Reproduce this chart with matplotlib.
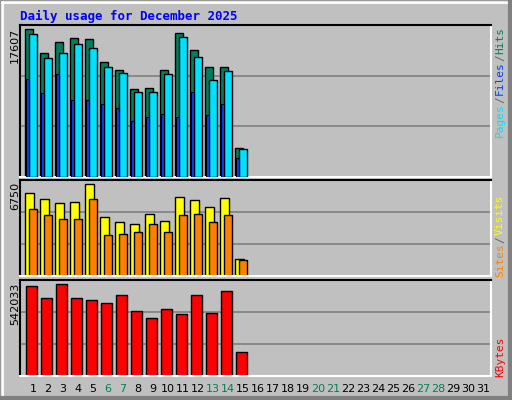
import matplotlib
matplotlib.use("Agg")
import matplotlib.pyplot as plt
from matplotlib.lines import Line2D
import numpy as np

days = list(range(1, 32))
weekend_days = [6, 7, 13, 14, 20, 21, 27, 28]
hits = [17607, 14740, 16054, 16532, 16413, 13665, 12710, 10440, 10560, 12710, 17129, 15099, 13068, 13068, 3392]
files = [17009, 14143, 14740, 15815, 15337, 13068, 12351, 10082, 10082, 12232, 16651, 14262, 11515, 12590, 3273]
pages = [11634, 9962, 12232, 9126, 9126, 8648, 8170, 6617, 7095, 7454, 7095, 10082, 7334, 8648, 2198]
visits = [6090, 5650, 5356, 5430, 6750, 4329, 3962, 3815, 4549, 4035, 5796, 5576, 5063, 5723, 1247]
sites = [4916, 4476, 4182, 4182, 5650, 3008, 3082, 3228, 3815, 3228, 4476, 4573, 3962, 4476, 1174]
kbytes = [530160, 459000, 542033, 459000, 447000, 429300, 476700, 381800, 340200, 393600, 363900, 476700, 369900, 500500, 138300]

W, H = 512, 400
fig = plt.figure(figsize=(W / 100, H / 100), dpi=100)
fig.patch.set_facecolor("#C0C0C0")

def rect(l, t, r, b):
    return [l / W, 1 - b / H, (r - l) / W, (b - t) / H]

def line(x0, y0, x1, y1, c, lw=1):
    fig.add_artist(Line2D([x0 / W, x1 / W], [1 - y0 / H, 1 - y1 / H], color=c, lw=lw, transform=fig.transFigure))

# bevel border
line(0.5, 0.5, 511.5, 0.5, "black"); line(0.5, 0.5, 0.5, 399.5, "black")
line(511.5, 0.5, 511.5, 399.5, "black"); line(0.5, 399.5, 511.5, 399.5, "black")
line(2, 2, 509, 2, "white", 2); line(2, 2, 2, 397, "white", 2)
line(509.5, 2, 509.5, 397.5, "#808080", 3); line(2, 397.5, 509.5, 397.5, "#808080", 3)

fig.text(20 / W, 1 - 16 / H, "Daily usage for December 2025", color="#0000FF",
         fontsize=9, fontweight="bold", family="DejaVu Sans Mono", va="center", ha="left")

n = len(hits)
x = np.arange(n)

def mk_ax(t, b, ymax):
    ax = fig.add_axes(rect(20, t, 491, b))
    ax.set_facecolor("#C0C0C0")
    ax.set_xlim(0, 31.4)
    ax.set_ylim(0, ymax)
    ax.set_yticks([ymax / 3, 2 * ymax / 3])
    ax.yaxis.grid(True, color="#808080", lw=1.2)
    ax.set_axisbelow(True)
    ax.tick_params(length=0, labelleft=False, labelbottom=False)
    for s in ["top", "left"]:
        ax.spines[s].set_color("black"); ax.spines[s].set_linewidth(1.5)
    for s in ["bottom", "right"]:
        ax.spines[s].set_color("white"); ax.spines[s].set_linewidth(1.5)
    return ax

ax1 = mk_ax(25, 176.7, 17607 * 151.7 / 147.4)
ax1.bar(x + 0.35, hits, width=0.49, align="edge", color="#007F5F", edgecolor="black", lw=1, zorder=2)
ax1.bar(x + 0.60, files, width=0.51, align="edge", color="#00E0FF", edgecolor="black", lw=1, zorder=3)
ax1.bar(x + 0.42, pages, width=0.19, align="edge", color="#0040FF", edgecolor="black", lw=0.8, zorder=4)

ax2 = mk_ax(180, 276.3, 6750 * 96.3 / 92)
ax2.bar(x + 0.35, visits, width=0.56, align="edge", color="#FFFF00", edgecolor="black", lw=1)
ax2.bar(x + 0.58, sites, width=0.53, align="edge", color="#FF8000", edgecolor="black", lw=1)

ax3 = mk_ax(280, 375.7, 542033 * 95.7 / 91.3)
ax3.bar(x + 0.42, kbytes, width=0.69, align="edge", color="#FF0000", edgecolor="black", lw=1)

# left max labels
for ytop, txt in [(28, "17607"), (182, "6750"), (283, "542033")]:
    fig.text(15 / W, 1 - ytop / H, txt, rotation=90, fontsize=8, va="top", ha="center", color="black")

# right labels
def right_label(ybot, parts):
    y = ybot
    for txt, c in parts:
        fig.text(500 / W, 1 - y / H, txt, rotation=90, fontsize=8, family="DejaVu Sans Mono",
                 color=c, va="bottom", ha="center")
        y -= len(txt) * 6.6 + 1
right_label(137, [("Pages", "#00E0FF"), ("/", "#606060"), ("Files", "#0040FF"), ("/", "#606060"), ("Hits", "#007F5F")])
right_label(277, [("Sites", "#FF8000"), ("/", "#606060"), ("Visits", "#FFFF00")])
right_label(377, [("KBytes", "#FF0000")])

# day labels
for d in days:
    px = 20 + (d - 1 + 0.87) * 15
    fig.text(px / W, 1 - 389 / H, str(d), fontsize=8, ha="center", va="center",
             color="#00805C" if d in weekend_days else "black")

fig.savefig("out.png", dpi=100, facecolor=fig.get_facecolor())
